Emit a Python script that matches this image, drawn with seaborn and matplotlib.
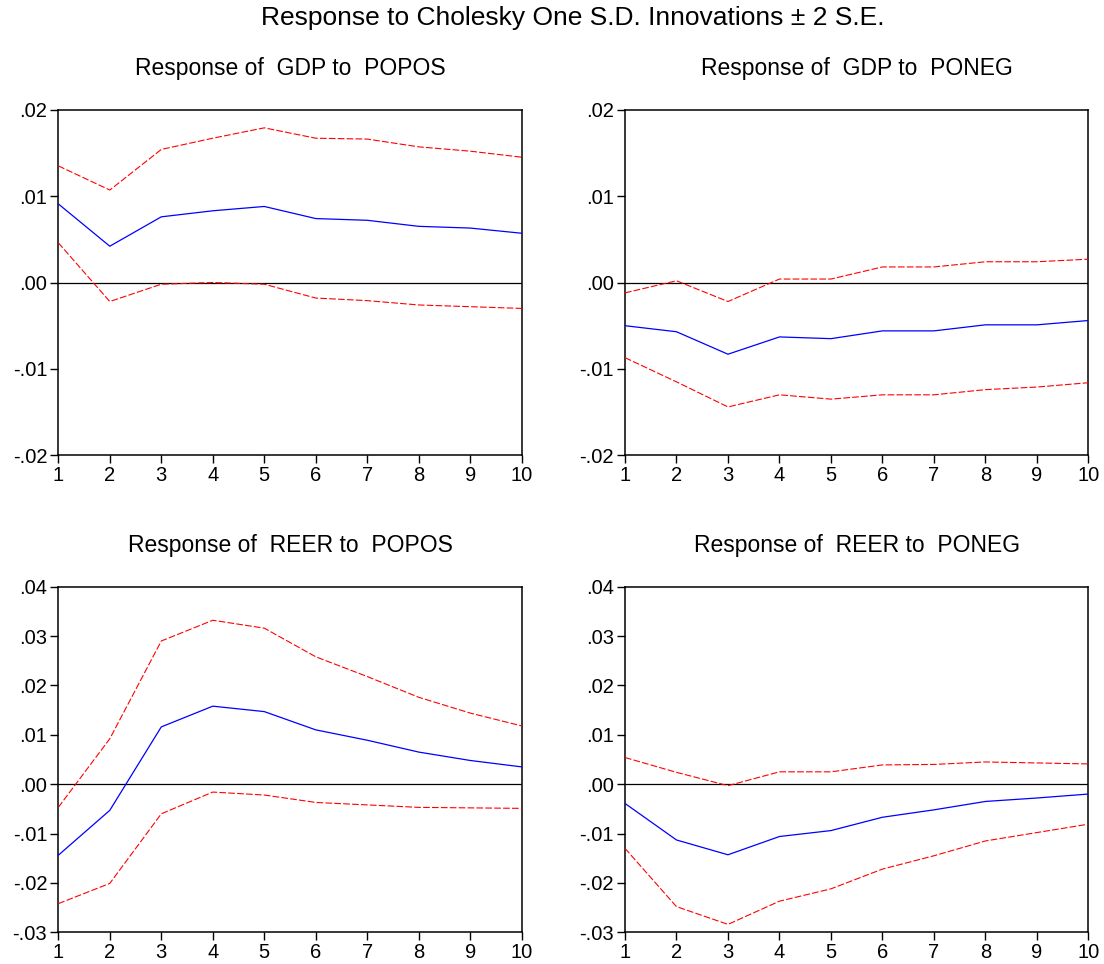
import matplotlib
matplotlib.use("Agg")
import matplotlib.pyplot as plt
import seaborn as sns
import pandas as pd
import numpy as np

periods = [1, 2, 3, 4, 5, 6, 7, 8, 9, 10]

gdp_popos_mid = [0.0091, 0.0042, 0.0076, 0.0083, 0.0088, 0.0074, 0.0072, 0.0065, 0.0063, 0.0057]
gdp_popos_up = [0.0135, 0.0107, 0.0154, 0.0167, 0.0179, 0.0167, 0.0166, 0.0157, 0.0152, 0.0145]
gdp_popos_lo = [0.0046, -0.0022, -0.0002, 0.0000, -0.0002, -0.0018, -0.0021, -0.0026, -0.0028, -0.0030]

gdp_poneg_mid = [-0.0050, -0.0057, -0.0083, -0.0063, -0.0065, -0.0056, -0.0056, -0.0049, -0.0049, -0.0044]
gdp_poneg_up = [-0.0012, 0.0002, -0.0022, 0.0004, 0.0004, 0.0018, 0.0018, 0.0024, 0.0024, 0.0027]
gdp_poneg_lo = [-0.0087, -0.0115, -0.0144, -0.0130, -0.0135, -0.0130, -0.0130, -0.0124, -0.0121, -0.0116]

reer_popos_mid = [-0.0144, -0.0053, 0.0116, 0.0158, 0.0147, 0.0110, 0.0089, 0.0065, 0.0048, 0.0035]
reer_popos_up = [-0.0047, 0.0092, 0.0290, 0.0332, 0.0316, 0.0258, 0.0218, 0.0176, 0.0144, 0.0118]
reer_popos_lo = [-0.0242, -0.0201, -0.0060, -0.0016, -0.0022, -0.0037, -0.0042, -0.0047, -0.0048, -0.0049]

reer_poneg_mid = [-0.0039, -0.0113, -0.0143, -0.0106, -0.0094, -0.0067, -0.0052, -0.0035, -0.0028, -0.0020]
reer_poneg_up = [0.0054, 0.0024, -0.0003, 0.0025, 0.0025, 0.0039, 0.0040, 0.0045, 0.0043, 0.0041]
reer_poneg_lo = [-0.0130, -0.0248, -0.0284, -0.0237, -0.0212, -0.0172, -0.0145, -0.0115, -0.0098, -0.0081]

titles = ["Response of  GDP to  POPOS", "Response of  GDP to  PONEG",
          "Response of  REER to  POPOS", "Response of  REER to  PONEG"]
main_title = "Response to Cholesky One S.D. Innovations \u00b1 2 S.E."

gdp_ticks = [-0.02, -0.01, 0.0, 0.01, 0.02]
gdp_ticklabels = ["-.02", "-.01", ".00", ".01", ".02"]
reer_ticks = [-0.03, -0.02, -0.01, 0.0, 0.01, 0.02, 0.03, 0.04]
reer_ticklabels = ["-.03", "-.02", "-.01", ".00", ".01", ".02", ".03", ".04"]

sns.set_theme(style="ticks")
plt.rcParams['font.family'] = ['Liberation Sans', 'DejaVu Sans']
plt.rcParams['axes.linewidth'] = 1.1

fig = plt.figure(figsize=(11.04, 9.64), dpi=100)

W = 0.4198
H = 0.3585
positions = [
    [0.0528, 0.5277, W, H],
    [0.5661, 0.5277, W, H],
    [0.0528, 0.0329, W, H],
    [0.5661, 0.0329, W, H],
]

panels = [
    (gdp_popos_mid, gdp_popos_up, gdp_popos_lo, gdp_ticks, gdp_ticklabels),
    (gdp_poneg_mid, gdp_poneg_up, gdp_poneg_lo, gdp_ticks, gdp_ticklabels),
    (reer_popos_mid, reer_popos_up, reer_popos_lo, reer_ticks, reer_ticklabels),
    (reer_poneg_mid, reer_poneg_up, reer_poneg_lo, reer_ticks, reer_ticklabels),
]

for pos, (mid, up, lo, ticks, ticklabels), title in zip(positions, panels, titles):
    ax = fig.add_axes(pos)
    df = pd.DataFrame({"period": periods, "mid": mid, "up": up, "lo": lo})
    ax.axhline(0, color="black", lw=0.9, zorder=1)
    sns.lineplot(data=df, x="period", y="up", ax=ax, color="#ff0000", lw=0.8,
                 zorder=3).lines[-1].set_dashes((6, 2))
    sns.lineplot(data=df, x="period", y="lo", ax=ax, color="#ff0000", lw=0.8,
                 zorder=3).lines[-1].set_dashes((6, 2))
    sns.lineplot(data=df, x="period", y="mid", ax=ax, color="#0000ff", lw=0.9, zorder=4)
    ax.set_xlim(1, 10)
    ax.set_ylim(ticks[0], ticks[-1])
    ax.set_xticks(periods)
    ax.set_xticklabels([str(p) for p in periods])
    ax.set_yticks(ticks)
    ax.set_yticklabels(ticklabels)
    ax.set_xlabel("")
    ax.set_ylabel("")
    ax.tick_params(axis="both", direction="out", length=6, width=1.0,
                   labelsize=14.5, pad=2, colors="black")
    for s in ax.spines.values():
        s.set_visible(True)
        s.set_color("black")
        s.set_linewidth(1.1)
    ax.set_title(title, fontsize=16.5, pad=25, color="black")

fig.text(0.519, 0.981, main_title, ha="center", va="center", fontsize=19, color="black")

fig.savefig("out.png", dpi=100)
